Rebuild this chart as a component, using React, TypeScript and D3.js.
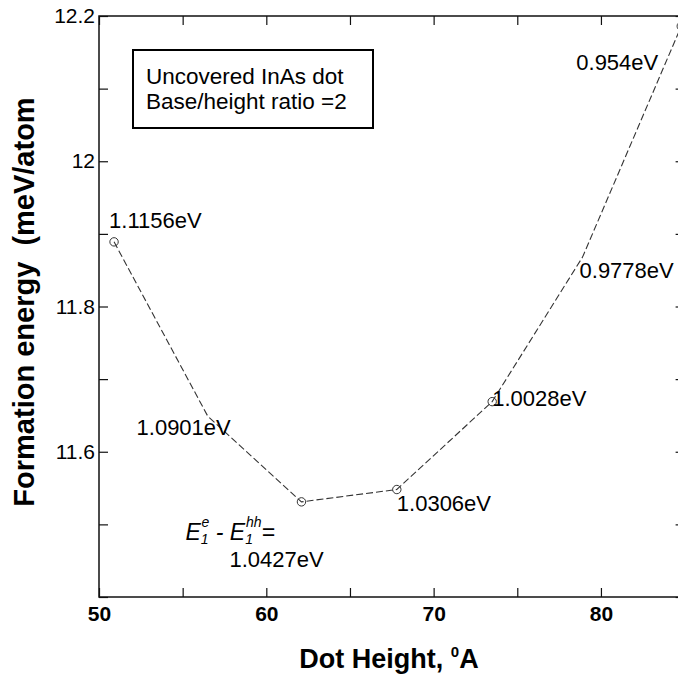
import React, { useRef, useEffect } from "react";
import { select, scaleLinear, axisBottom, axisTop, axisLeft, axisRight, line } from "d3";

// dot heights (A) and formation energy (meV/atom)
const dotHeight = [50.9, 56.5, 62.1, 67.8, 73.5, 78.9, 84.8];
const formationEnergy = [11.889, 11.649, 11.531, 11.548, 11.669, 11.868, 12.186];
// E1e - E1hh gap at each point
const gapLabels = ["1.1156eV", "1.0901eV", "1.0427eV", "1.0306eV", "1.0028eV", "0.9778eV", "0.954eV"];
// open circle visible at this point in the figure
const marked = [true, false, true, true, true, false, true];

const xTicks = [50, 55, 60, 65, 70, 75, 80, 85];
const xTickLabels = [50, 60, 70, 80];
const yTicks = [11.4, 11.5, 11.6, 11.7, 11.8, 11.9, 12.0, 12.1, 12.2];
const yTickLabels = [11.6, 11.8, 12, 12.2];
const legendLines = ["Uncovered InAs dot", "Base/height ratio =2"];

const FONT = "'Liberation Sans', Arial, Helvetica, sans-serif";

export default function App() {
    const svgRef = useRef<SVGSVGElement>(null);

    useEffect(() => {
        const svg = select(svgRef.current);
        svg.selectAll("*").remove();

        const left = 99, right = 684.6, top = 16, bottom = 597;
        const x = scaleLinear().domain([50, 85]).range([left, right]);
        const y = scaleLinear().domain([11.4, 12.2]).range([bottom, top]);

        const isLabel = (arr: number[], d: number) => arr.some((v) => Math.abs(v - d) < 1e-6);

        // axes, all ticks point inward
        const gb = svg.append("g").attr("transform", `translate(0,${bottom})`)
            .call(axisBottom(x).tickValues(xTicks).tickSize(-9).tickPadding(9)
                .tickFormat((d) => (isLabel(xTickLabels, +d) ? String(+d) : "")));
        gb.selectAll("text").attr("font-size", 21).attr("font-weight", "bold");

        svg.append("g").attr("transform", `translate(0,${top})`)
            .call(axisTop(x).tickValues(xTicks).tickSize(-9).tickFormat(() => ""));

        const gl = svg.append("g").attr("transform", `translate(${left},0)`)
            .call(axisLeft(y).tickValues(yTicks).tickSize(-9).tickPadding(4)
                .tickFormat((d) => (isLabel(yTickLabels, +d) ? String(+(+d).toFixed(1)) : "")));
        gl.selectAll("text").attr("font-size", 21);

        svg.append("g").attr("transform", `translate(${right},0)`)
            .call(axisRight(y).tickValues(yTicks).tickSize(-9).tickFormat(() => ""));

        svg.selectAll(".domain").remove();
        svg.selectAll(".tick line").attr("stroke", "#111").attr("stroke-width", 1.2);
        svg.selectAll(".tick text").attr("font-family", FONT).attr("fill", "#000");

        svg.append("rect")
            .attr("x", left).attr("y", top)
            .attr("width", right - left).attr("height", bottom - top)
            .attr("fill", "none").attr("stroke", "#111").attr("stroke-width", 1.5);

        // legend box
        svg.append("rect")
            .attr("x", 133).attr("y", 50).attr("width", 240).attr("height", 78)
            .attr("fill", "#fff").attr("stroke", "#000").attr("stroke-width", 2);
        svg.selectAll(".legend").data(legendLines).join("text")
            .attr("class", "legend")
            .attr("x", 146).attr("y", (_, i) => 84 + i * 25)
            .attr("font-family", FONT).attr("font-size", 22.5)
            .text((d) => d);

        // dashed curve with open circles
        const pts = dotHeight.map((h, i) => [h, formationEnergy[i]] as [number, number]);
        const path = line<[number, number]>().x((d) => x(d[0])).y((d) => y(d[1]));
        svg.append("path").datum(pts)
            .attr("d", path).attr("fill", "none")
            .attr("stroke", "#333").attr("stroke-width", 1.1).attr("stroke-dasharray", "7,3");

        svg.selectAll(".pt").data(pts.filter((_, i) => marked[i])).join("circle")
            .attr("class", "pt")
            .attr("cx", (d) => x(d[0])).attr("cy", (d) => y(d[1])).attr("r", 4.2)
            .attr("fill", "none").attr("stroke", "#333").attr("stroke-width", 1);

        // gap annotations, offset from their point
        const offsets: [number, number, string][] = [
            [-5, -14, "start"], [23, 19, "end"], [-72, 65, "start"], [0, 21, "start"],
            [0, 4, "start"], [-3, 21, "start"], [-23, 44, "end"],
        ];
        svg.selectAll(".gap").data(pts).join("text")
            .attr("class", "gap")
            .attr("x", (d, i) => x(d[0]) + offsets[i][0])
            .attr("y", (d, i) => y(d[1]) + offsets[i][1])
            .attr("text-anchor", (_, i) => offsets[i][2])
            .attr("font-family", FONT).attr("font-size", 22)
            .text((_, i) => gapLabels[i]);

        // E1e - E1hh = label by the minimum
        const ex = x(dotHeight[2]) - 116, ey = y(formationEnergy[2]) + 38;
        const et = svg.append("text").attr("x", ex).attr("y", ey)
            .attr("font-family", FONT).attr("font-size", 23).attr("font-style", "italic")
            .style("white-space", "pre");
        et.append("tspan").text("E");
        et.append("tspan").attr("font-size", 14).attr("dy", 4).text("1");
        et.append("tspan").attr("font-size", 14).attr("dx", -7).attr("dy", -17).text("e");
        et.append("tspan").attr("dy", 13).text(" - E");
        et.append("tspan").attr("font-size", 14).attr("dy", 4).text("1");
        et.append("tspan").attr("font-size", 14).attr("dx", -7).attr("dy", -17).text("hh");
        et.append("tspan").attr("dy", 13).text("=");

        // axis titles
        const xt = svg.append("text")
            .attr("x", 389).attr("y", 668).attr("text-anchor", "middle")
            .attr("font-family", FONT).attr("font-size", 27).attr("font-weight", "bold");
        xt.append("tspan").text("Dot Height, ");
        xt.append("tspan").attr("font-size", 15).attr("dy", -11).text("0");
        xt.append("tspan").attr("dy", 11).text("A");

        svg.append("text")
            .attr("transform", "translate(34,302) rotate(-90)")
            .attr("text-anchor", "middle")
            .attr("font-family", FONT).attr("font-size", 29).attr("font-weight", "bold")
            .style("white-space", "pre")
            .text("Formation energy  (meV/atom");
    }, []);

    return (
        <svg
            ref={svgRef}
            width={678}
            height={679}
            style={{ position: "absolute", left: 0, top: 0, background: "#fff" }}
        />
    );
}
